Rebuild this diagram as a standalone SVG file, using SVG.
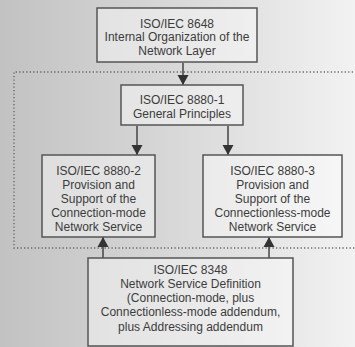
<svg xmlns="http://www.w3.org/2000/svg" width="355" height="347" viewBox="0 0 355 347">
  <defs>
    <linearGradient id="paper" x1="0" y1="0" x2="1" y2="0">
      <stop offset="0" stop-color="#c2c2c2"/>
      <stop offset="0.45" stop-color="#d6d6d6"/>
      <stop offset="1" stop-color="#f2f2f2"/>
    </linearGradient>
    <marker id="head" viewBox="0 0 10 14" refX="10" refY="7" markerWidth="10" markerHeight="14" markerUnits="userSpaceOnUse" orient="auto">
      <path d="M0,1.5 L10,7 L0,12.5 Z" fill="#333"/>
    </marker>
    <style>
      .box { fill: #ffffff; fill-opacity: 0.42; stroke: #555; stroke-width: 1.5; }
      .lbl { font-family: "Liberation Sans", Arial, sans-serif; font-size: 12px; fill: #3c3c3c; text-anchor: middle; }
      .link { stroke: #444; stroke-width: 1.5; fill: none; marker-end: url(#head); }
      .scope { fill: none; stroke: #6a6a6a; stroke-width: 1.4; stroke-dasharray: 1.3 2.2; }
    </style>
  </defs>

  <rect x="0" y="0" width="355" height="347" fill="url(#paper)"/>

  <!-- dotted grouping around the 8880 series -->
  <path class="scope" d="M360,72 H14 V248 H360"/>

  <g id="connectors">
    <line class="link" x1="183" y1="63" x2="183" y2="85"/>
    <line class="link" x1="137" y1="126" x2="137" y2="155"/>
    <line class="link" x1="228" y1="126" x2="228" y2="155"/>
    <line class="link" x1="103" y1="258" x2="103" y2="237"/>
    <line class="link" x1="269" y1="258" x2="269" y2="237"/>
  </g>

  <g id="iso8648">
    <rect class="box" x="97" y="8" width="160" height="54"/>
    <text class="lbl" x="177" y="27.5">ISO/IEC 8648</text>
    <text class="lbl" x="177" y="41">Internal Organization of the</text>
    <text class="lbl" x="177" y="54.5">Network Layer</text>
  </g>

  <g id="iso8880-1">
    <rect class="box" x="121" y="85" width="122" height="40"/>
    <text class="lbl" x="182" y="104">ISO/IEC 8880-1</text>
    <text class="lbl" x="182" y="117.5">General Principles</text>
  </g>

  <g id="iso8880-2">
    <rect class="box" x="42" y="155" width="113" height="82"/>
    <text class="lbl" x="98.5" y="175">ISO/IEC 8880-2</text>
    <text class="lbl" x="98.5" y="189">Provision and</text>
    <text class="lbl" x="98.5" y="203">Support of the</text>
    <text class="lbl" x="98.5" y="217">Connection-mode</text>
    <text class="lbl" x="98.5" y="231">Network Service</text>
  </g>

  <g id="iso8880-3">
    <rect class="box" x="203" y="155" width="139" height="82"/>
    <text class="lbl" x="272.5" y="175">ISO/IEC 8880-3</text>
    <text class="lbl" x="272.5" y="189">Provision and</text>
    <text class="lbl" x="272.5" y="203">Support of the</text>
    <text class="lbl" x="272.5" y="217">Connectionless-mode</text>
    <text class="lbl" x="272.5" y="231">Network Service</text>
  </g>

  <g id="iso8348">
    <rect class="box" x="88" y="258" width="205" height="88"/>
    <text class="lbl" x="190.5" y="274">ISO/IEC 8348</text>
    <text class="lbl" x="190.5" y="288">Network Service Definition</text>
    <text class="lbl" x="190.5" y="302">(Connection-mode, plus</text>
    <text class="lbl" x="190.5" y="316">Connectionless-mode addendum,</text>
    <text class="lbl" x="190.5" y="331">plus Addressing addendum</text>
  </g>
</svg>
